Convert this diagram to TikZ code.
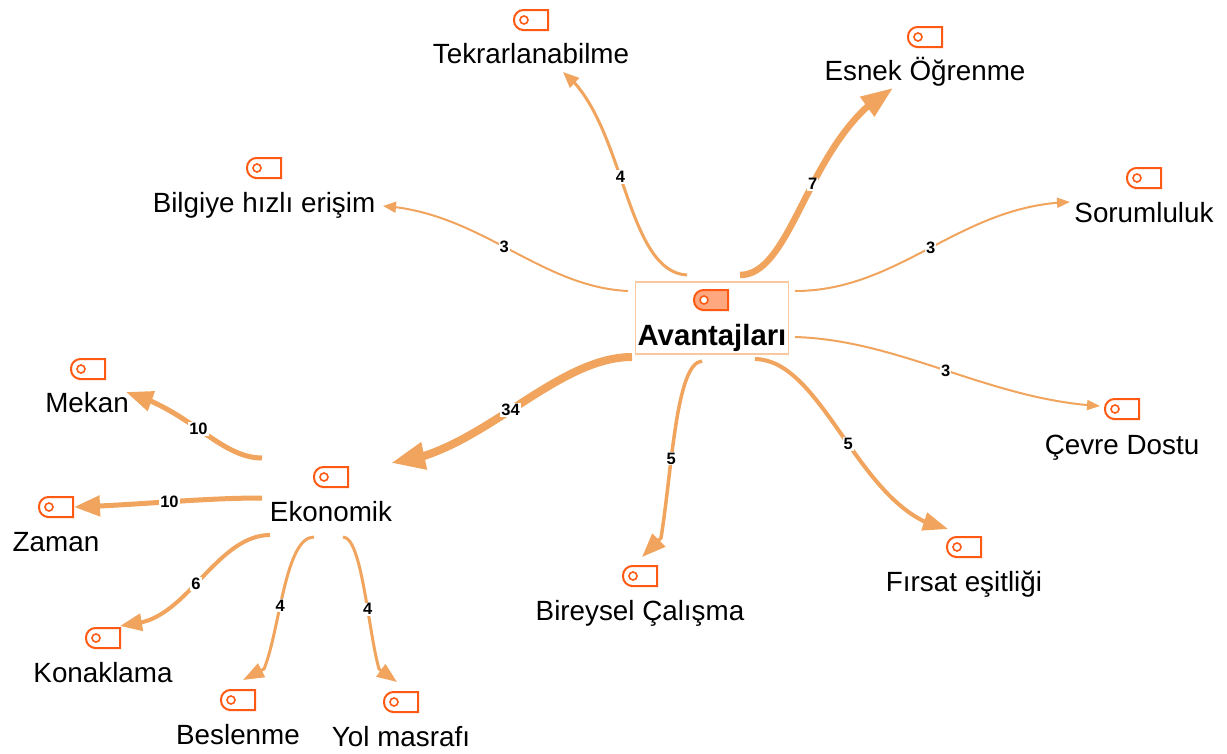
\documentclass[tikz,border=0pt]{standalone}
\usepackage{fontspec}
\setmainfont{Liberation Sans}
\usetikzlibrary{arrows.meta,bending}
\definecolor{linkc}{HTML}{F0A45D}
\definecolor{tagc}{HTML}{FF5A14}
\definecolor{tagfill}{HTML}{FFA880}
\definecolor{boxc}{HTML}{F8C9A0}
\tikzset{
  x=1pt,y=-1pt,
  topic/.style={inner sep=0pt,text height=18.7pt,text depth=6pt,font=\fontsize{27.8}{30}\selectfont},
  rootbox/.style={draw=boxc,line width=1.5pt,inner ysep=0pt,inner xsep=0pt,minimum width=153pt,
    text height=63.5pt,text depth=8.5pt,font=\fontsize{29.3}{30}\selectfont\bfseries},
  link/.style={draw=linkc,fill=none,line cap=butt},
  num/.style={fill=white,inner sep=1pt,text=black,font=\fontsize{16.5}{18}\selectfont\bfseries},
  pics/tag/.style={code={
    \draw[draw=tagc,line width=2pt,fill=#1,rounded corners=9.5pt] (0,-10) -- (-17,-10) -- (-17,10) -- (0,10) [sharp corners] -- (17,10) -- (17,-10) -- cycle;
    \draw[draw=tagc,line width=1.6pt,fill=white] (-7,0) circle[radius=4pt];
  }},
  pics/tag/.default=white,
  tip/.style 2 args={-{Triangle[length=#1pt,width=#2pt,flex=1]}}
}
\begin{document}
\begin{tikzpicture}
\useasboundingbox (0,0) rectangle (1227,753);
\node[rootbox] (root) at (712,318) {Avantajları};
\pic at (711,300) {tag=tagfill};
\node[topic] (bil) at (264,206) {Bilgiye hızlı erişim};
\pic at (264,168) {tag};
\node[topic] (tek) at (531,57) {Tekrarlanabilme};
\pic at (531,20) {tag};
\node[topic] (esn) at (925,74) {Esnek Öğrenme};
\pic at (925,37) {tag};
\node[topic] (sor) at (1144,216) {Sorumluluk};
\pic at (1144,178) {tag};
\node[topic] (cev) at (1122,448) {Çevre Dostu};
\pic at (1122,409) {tag};
\node[topic] (fir) at (964,585) {Fırsat eşitliği};
\pic at (964,547) {tag};
\node[topic] (bir) at (640,614) {Bireysel Çalışma};
\pic at (640,576) {tag};
\node[topic] (eko) at (331,515) {Ekonomik};
\pic at (331,477) {tag};
\node[topic] (mek) at (87,406) {Mekan};
\pic at (88,369) {tag};
\node[topic] (zam) at (56,545) {Zaman};
\pic at (56,507) {tag};
\node[topic] (kon) at (103,676) {Konaklama};
\pic at (103,638) {tag};
\node[topic] (bes) at (238,738) {Beslenme};
\pic at (238,700) {tag};
\node[topic] (yol) at (401,740) {Yol masrafı};
\pic at (401,702) {tag};

\draw[link,line width=2pt,tip={13}{11}] ([shift={(-84,-27)}]root.center) .. controls +(-88,-4) and +(97,6) .. ([shift={(119,0)}]bil.center) node[num,pos=.52] {3};
\draw[link,line width=3pt,tip={16}{13}] ([shift={(-25,-43)}]root.center) .. controls +(-62,-3) and +(62,48) .. ([shift={(32,15)}]tek.center) node[num,pos=.55] {4};
\draw[link,line width=6.5pt,tip={32}{23}] ([shift={(28,-43)}]root.center) .. controls +(54,0) and +(-85,47) .. ([shift={(-32,14)}]esn.center) node[num,pos=.56] {7};
\draw[link,line width=2pt,tip={13}{10}] ([shift={(83,-27)}]root.center) .. controls +(105,0) and +(-110,3) .. ([shift={(-74,-14)}]sor.center) node[num,pos=.5] {3};
\draw[link,line width=2pt,tip={13}{10}] ([shift={(83,19)}]root.center) .. controls +(105,3) and +(-110,-6) .. ([shift={(-22,-42)}]cev.center) node[num,pos=.5] {3};
\draw[link,line width=4pt,tip={25}{18}] ([shift={(43,41)}]root.center) .. controls +(70,1) and +(-88,-14) .. ([shift={(-16,-56)}]fir.center) node[num,pos=.52] {5};
\draw[link,line width=3.5pt,tip={24}{18}] ([shift={(-10,43)}]root.center) .. controls +(-26,2) and +(11,-68) .. ([shift={(21,-76)}]bir.center) node[num,pos=.65] {5} -- ([shift={(2,-57)}]bir.center);
\draw[link,line width=8pt,tip={34}{26}] ([shift={(-80,39)}]root.center) .. controls +(-78,0) and +(88,-8) .. ([shift={(60,-52)}]eko.center) node[num,pos=.52] {34};
\draw[link,line width=5pt,tip={27}{20}] ([shift={(-69,-57)}]eko.center) .. controls +(-42,0) and +(64,18) .. ([shift={(39,-14)}]mek.center) node[num,pos=.53] {10};
\draw[link,line width=5pt,tip={26}{20}] ([shift={(-69,-17)}]eko.center) .. controls +(-62,0) and +(66,-2) .. ([shift={(18,-38)}]zam.center) node[num,pos=.5] {10};
\draw[link,line width=4pt,tip={22}{17}] ([shift={(-61,20)}]eko.center) .. controls +(-50,0) and +(47,-12) .. ([shift={(40,-54)}]kon.center) node[num,pos=.58] {6} -- ([shift={(17,-50)}]kon.center);
\draw[link,line width=3pt,tip={21}{15}] ([shift={(-17,22)}]eko.center) .. controls +(-29,0) and +(16,-39) .. ([shift={(26,-69)}]bes.center) node[num,pos=.6] {4} -- ([shift={(5,-58)}]bes.center);
\draw[link,line width=3pt,tip={20}{15}] ([shift={(12,22)}]eko.center) .. controls +(19,0) and +(-11,-39) .. ([shift={(-22,-71)}]yol.center) node[num,pos=.62] {4} -- ([shift={(-4,-58)}]yol.center);
\end{tikzpicture}
\end{document}
